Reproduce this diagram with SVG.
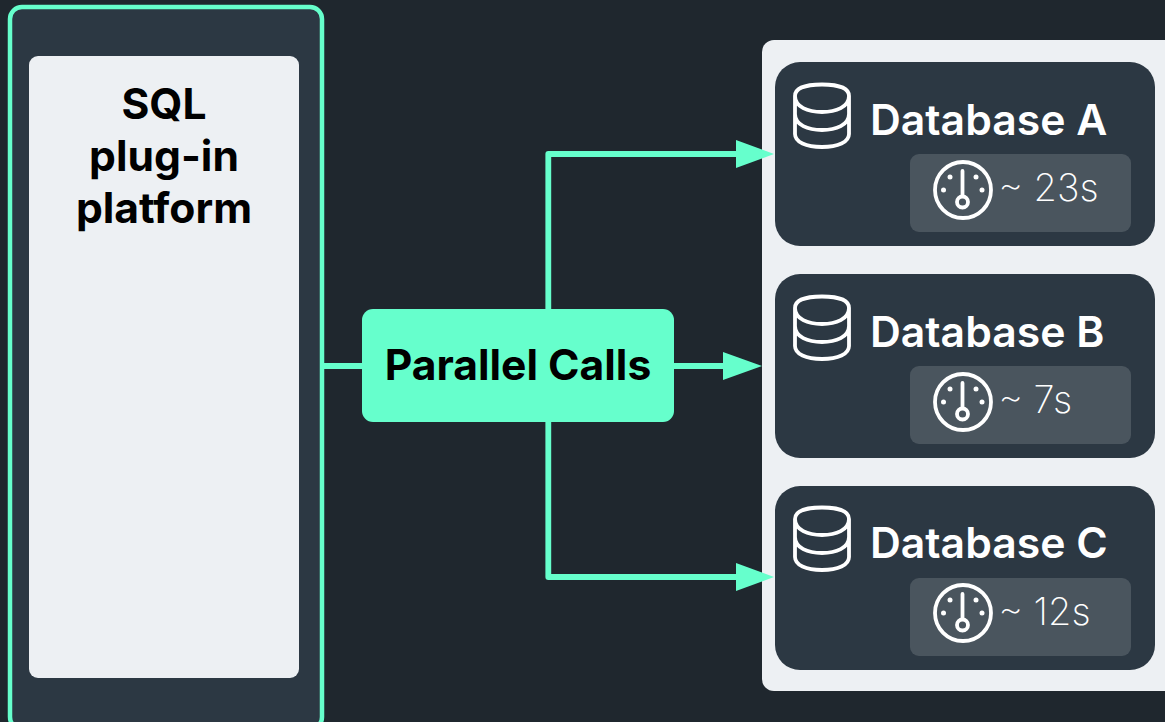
<svg xmlns="http://www.w3.org/2000/svg" width="1165" height="722" viewBox="0 0 1165 722">
<defs>
<style>
.t{font-family:Inter,"Liberation Sans",sans-serif}
.db{font-size:42.7px;font-weight:600;fill:#fff}
.time{font-size:37.9px;font-weight:200;fill:#fff}
.h{font-size:42.6px;font-weight:700;fill:#000;text-anchor:middle}
.ic{fill:none;stroke:#fff;stroke-width:3.8;stroke-linecap:round;stroke-linejoin:round}
.card{fill:#2c3843}
.badge{fill:#4a555e}
.conn{fill:none;stroke:#66ffcc;stroke-width:5.8;stroke-linejoin:round}
.head{fill:#66ffcc}
</style>
<g id="dbi">
<path class="ic" d="M795 96C795 89 804 84.500 822 84.500C840 84.500 849 89 849 96V134C849 142 838 147 822 147C806 147 795 142 795 134ZM795 96C795 107 808 112 822 112C836 112 849 107 849 96M795 114C795 125 808 130 822 130C836 130 849 125 849 114"/>
</g>
<g id="gauge">
<circle class="ic" cx="963" cy="190" r="28"/>
<path class="ic" d="M962.500 171V196"/>
<circle class="ic" cx="962.500" cy="202" r="5.500"/>
<g fill="#fff"><circle cx="950" cy="177" r="2.500"/><circle cx="976" cy="177" r="2.500"/><circle cx="943.500" cy="190" r="2.500"/><circle cx="982" cy="190" r="2.500"/></g>
</g>
</defs>
<rect width="1165" height="722" fill="#1f272e"/>
<g id="platform">
<rect x="10" y="7" width="312" height="722" rx="12" fill="#2c3843" stroke="#66ffcc" stroke-width="4.500"/>
<rect x="29" y="56" width="270" height="622" rx="9" fill="#edf0f3"/>
<text class="t h" x="164" y="119">SQL</text>
<text class="t h" x="164" y="171">plug-in</text>
<text class="t h" x="164" y="223">platform</text>
</g>
<g id="databases">
<rect x="762" y="40" width="420" height="651" rx="12" fill="#edf0f3"/>
</g>
<g id="database-a">
<rect class="card" x="775" y="62" width="380" height="184" rx="25"/>
<use href="#dbi"/>
<text class="t db" x="870" y="135">Database A</text>
<rect class="badge" x="910" y="154" width="221" height="78" rx="9"/>
<use href="#gauge"/>
<text class="t time" x="998.500" y="201">~ 23s</text>
</g>
<g id="database-b">
<rect class="card" x="775" y="274" width="380" height="184" rx="25"/>
<use href="#dbi" y="212"/>
<text class="t db" x="870" y="347">Database B</text>
<rect class="badge" x="910" y="366" width="221" height="78" rx="9"/>
<use href="#gauge" y="212"/>
<text class="t time" x="998.500" y="413">~ 7s</text>
</g>
<g id="database-c">
<rect class="card" x="775" y="486" width="380" height="184" rx="25"/>
<use href="#dbi" y="423"/>
<text class="t db" x="870" y="558">Database C</text>
<rect class="badge" x="910" y="578" width="221" height="78" rx="9"/>
<use href="#gauge" y="423"/>
<text class="t time" x="998.500" y="625">~ 12s</text>
</g>
<g id="connectors">
<path class="conn" d="M322 366H362M674 366H728"/>
<path class="conn" d="M548.300 310V154H740M548.300 420V577H740"/>
<path class="head" d="M723 352L762 366L723 380ZM736 140L774 154L736 168ZM736 563L774 577L736 591Z"/>
</g>
<g id="parallel-calls">
<rect x="362" y="309" width="312" height="113" rx="11" fill="#66ffcc"/>
<text class="t h" x="518" y="380">Parallel Calls</text>
</g>
</svg>
